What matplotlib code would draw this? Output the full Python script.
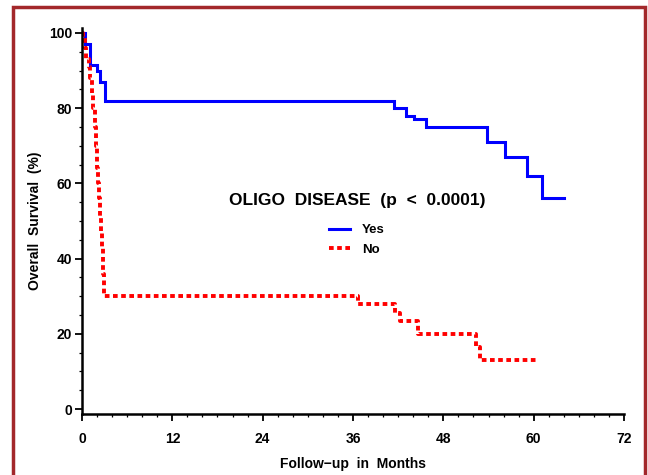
import matplotlib
matplotlib.use("Agg")
import matplotlib.pyplot as plt
from matplotlib.patches import Rectangle
from matplotlib.ticker import MultipleLocator

# Kaplan-Meier step data (months, % survival)
yes_t = [0, 0.4, 1.0, 1.1, 2.0, 2.4, 3.0, 41.4, 43.0, 44.1, 45.7, 53.8, 56.2, 59.1, 61.1, 64.0]
yes_s = [100, 97, 96, 91.5, 90, 87, 82, 80, 78, 77, 75, 71, 67, 62, 56, 56]

no_t = [0, 0.2, 0.4, 0.6, 0.9, 1.1, 1.3, 1.5, 1.7, 1.85, 2.0, 2.1, 2.25, 2.4, 2.5, 2.6, 2.75, 2.85, 2.95,
        36.7, 41.6, 42.2, 44.6, 52.4, 52.9, 60.6]
no_s = [100, 99, 96, 93, 91, 88, 84, 80, 75, 70, 64, 60, 56, 51, 47, 43, 40, 36, 30,
        28, 25.5, 23.5, 20, 16.5, 13, 13]

xticks = [0, 12, 24, 36, 48, 60, 72]
yticks = [0, 20, 40, 60, 80, 100]

plt.rcParams['font.family'] = ['Liberation Sans', 'DejaVu Sans']

fig = plt.figure(figsize=(6.48, 4.75), dpi=100)
ax = fig.add_axes([0.1265, 0.1284, 0.8365, 0.8126])

ax.step(yes_t, yes_s, where='post', color='#0000ff', lw=2.2, label='Yes', solid_joinstyle='miter')
ax.step(no_t, no_s, where='post', color='#ff0000', lw=2.8, linestyle=(0, (1.2, 0.9)), label='No')

ax.set_xlim(0, 72)
ax.set_ylim(-1.3, 101.3)
ax.set_xticks(xticks)
ax.set_yticks(yticks)
ax.xaxis.set_minor_locator(MultipleLocator(2))
ax.yaxis.set_minor_locator(MultipleLocator(5))
ax.tick_params(axis='both', which='major', direction='out', length=5, width=1.3, labelsize=10)
ax.tick_params(axis='x', which='major', pad=8)
ax.tick_params(axis='y', which='major', pad=2)
ax.tick_params(axis='both', which='minor', direction='out', length=2.5, width=0.9)
for lab in ax.get_xticklabels() + ax.get_yticklabels():
    lab.set_fontweight('bold')
ax.spines['top'].set_visible(False)
ax.spines['right'].set_visible(False)
ax.spines['left'].set_linewidth(1.8)
ax.spines['bottom'].set_linewidth(1.8)

ax.set_xlabel('Follow\u2212up  in  Months', fontsize=10, fontweight='bold', labelpad=8)
ax.set_ylabel('Overall  Survival  (%)', fontsize=10, fontweight='bold', labelpad=5)

leg = ax.legend(title='OLIGO  DISEASE  (p  <  0.0001)', frameon=False, loc='center',
                bbox_to_anchor=(0.551, 0.528), bbox_transform=fig.transFigure,
                fontsize=9.5, handlelength=1.6, handletextpad=0.9, labelspacing=0.55,
                borderaxespad=0)
leg.get_title().set_fontsize(12.5)
leg.get_title().set_fontweight('bold')
leg._legend_box.sep = 12
for t in leg.get_texts():
    t.set_fontweight('bold')

border = Rectangle((13 / 648, -0.05), (645 - 13) / 648, (475 - 7) / 475 + 0.05,
                   transform=fig.transFigure, fill=False, edgecolor='#a3282b', lw=2.5,
                   clip_on=False)
fig.patches.append(border)

fig.savefig('out.png', dpi=100)
